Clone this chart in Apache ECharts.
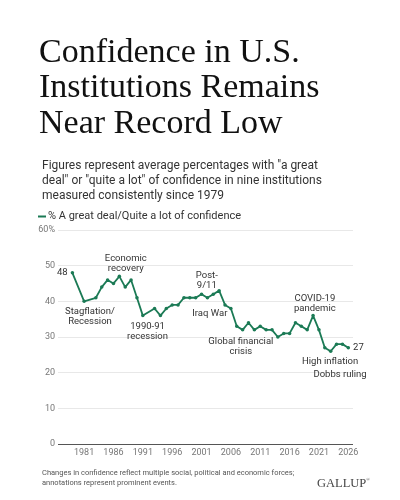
<!DOCTYPE html>
<html>
<head>
<meta charset="utf-8">
<script src="https://cdn.jsdelivr.net/npm/echarts@6/dist/echarts.min.js"></script>
<style>
  html, body { margin: 0; padding: 0; background: #fff; }
  #main { width: 400px; height: 500px; }
</style>
</head>
<body>
<div id="main"></div>
<script>
// survey years (gaps in 1980, 1982, 1992 as in the source)
const years = [
  1979, 1981, 1983, 1984, 1985, 1986, 1987, 1988, 1989, 1990, 1991,
  1993, 1994, 1995, 1996, 1997, 1998, 1999, 2000, 2001, 2002, 2003,
  2004, 2005, 2006, 2007, 2008, 2009, 2010, 2011, 2012, 2013, 2014,
  2015, 2016, 2017, 2018, 2019, 2020, 2021, 2022, 2023, 2024, 2025, 2026
];
// % a great deal / quite a lot of confidence
const confidence = [
  48, 40, 41, 44, 46, 45, 47, 44, 46, 41, 36,
  38, 36, 38, 39, 39, 41, 41, 41, 42, 41, 42,
  43, 39, 38, 33, 32, 34, 32, 33, 32, 32, 30,
  31, 31, 34, 33, 32, 36, 32, 27, 26, 28, 28, 27
];
const yearLabels = [1981, 1986, 1991, 1996, 2001, 2006, 2011, 2016, 2021, 2026];
const yTicks = [0, 10, 20, 30, 40, 50, 60];

// event annotations, placed in data units [year, %]
const notes = [
  { text: "Economic\nrecovery", at: [1988.1, 50.7] },
  { text: "Stagflation/\nRecession", at: [1982.0, 35.6] },
  { text: "1990-91\nrecession", at: [1991.8, 31.5] },
  { text: "Post-\n9/11", at: [2001.9, 45.9] },
  { text: "Iraq War", at: [2002.4, 36.5] },
  { text: "Global financial\ncrisis", at: [2007.7, 27.4] },
  { text: "COVID-19\npandemic", at: [2020.3, 39.4] },
  { text: "High inflation", at: [2022.9, 23.1] },
  { text: "Dobbs ruling", at: [2024.6, 19.5] }
];

const green = "#1b7a55";
const sans = "Roboto, 'Noto Sans', sans-serif";

const lastIdx = years.length - 1;
const seriesData = years.map((y, i) => {
  const item = { value: [y, confidence[i]] };
  if (i === 0 || i === lastIdx) {
    item.label = {
      show: true,
      position: i === 0 ? "left" : "right",
      distance: 3,
      formatter: (p) => p.value[1],
      color: "#333",
      fontSize: 9.5,
      fontFamily: sans
    };
  }
  return item;
});

const chart = echarts.init(document.getElementById("main"), null, { renderer: "canvas" });

const option = {
  backgroundColor: "#fff",
  animation: false,
  title: [
    {
      text: "Confidence in U.S.\nInstitutions Remains\nNear Record Low",
      left: 34,
      top: 30,
      textStyle: {
        fontFamily: "'Liberation Serif', 'DejaVu Serif', serif",
        fontWeight: "normal",
        fontSize: 34,
        lineHeight: 35.5,
        color: "#111"
      }
    },
    {
      text: "Figures represent average percentages with \"a great\ndeal\" or \"quite a lot\" of confidence in nine institutions\nmeasured consistently since 1979",
      left: 37,
      top: 153,
      textStyle: {
        fontFamily: sans,
        fontWeight: "normal",
        fontSize: 12,
        lineHeight: 15,
        color: "#333"
      }
    },
    {
      text: "Changes in confidence reflect multiple social, political and economic forces;\nannotations represent prominent events.",
      left: 37,
      top: 463,
      textStyle: {
        fontFamily: sans,
        fontWeight: "normal",
        fontSize: 7.5,
        lineHeight: 10,
        color: "#555"
      }
    },
    {
      text: "GALLUP{r|®}",
      left: 312,
      top: 472,
      textStyle: {
        fontFamily: "'Liberation Serif', serif",
        fontWeight: "normal",
        fontSize: 12.5,
        color: "#444",
        rich: {
          r: { fontSize: 5, color: "#444", verticalAlign: "top", padding: [0, 0, 6, 0] }
        }
      }
    }
  ],
  legend: {
    left: 33,
    top: 206,
    icon: "rect",
    itemWidth: 8,
    itemHeight: 2,
    itemGap: 10,
    textStyle: { fontFamily: sans, fontSize: 11, color: "#333", padding: [0, 0, 0, -3] },
    data: ["% A great deal/Quite a lot of confidence"]
  },
  grid: { left: 58, right: 47, top: 230, bottom: 56, containLabel: false },
  xAxis: {
    type: "value",
    min: 1976.55,
    max: 2026.8,
    axisLine: { show: false },
    axisTick: { show: false },
    splitLine: { show: false },
    axisLabel: {
      customValues: yearLabels,
      color: "#777",
      fontSize: 9,
      fontFamily: sans,
      margin: 4,
      formatter: (v) => String(v)
    }
  },
  yAxis: {
    type: "value",
    min: 0,
    max: 60,
    interval: 10,
    axisLine: { show: false },
    axisTick: { show: false },
    axisLabel: {
      color: "#777",
      fontSize: 9,
      fontFamily: sans,
      margin: 3,
      formatter: (v) => (v === yTicks[yTicks.length - 1] ? v + "%" : String(v))
    },
    splitLine: { lineStyle: { color: "#e8e8e8", width: 1 } }
  },
  series: [
    {
      name: "% A great deal/Quite a lot of confidence",
      type: "line",
      data: seriesData,
      color: green,
      symbol: "circle",
      symbolSize: 3.5,
      lineStyle: { width: 1.8, color: green },
      itemStyle: { color: green },
      z: 5,
      markLine: {
        silent: true,
        symbol: "none",
        label: { show: false },
        lineStyle: { color: "#555", width: 1.2, type: "solid" },
        data: [{ yAxis: 0 }]
      },
      markPoint: {
        silent: true,
        symbol: "circle",
        symbolSize: 0,
        itemStyle: { color: "transparent" },
        label: {
          show: true,
          position: "inside",
          formatter: "{b}",
          color: "#333",
          fontSize: 9.5,
          lineHeight: 10,
          fontFamily: sans,
          align: "center"
        },
        data: notes.map((n) => ({ name: n.text, coord: n.at }))
      }
    }
  ]
};

chart.setOption(option);
</script>
</body>
</html>
